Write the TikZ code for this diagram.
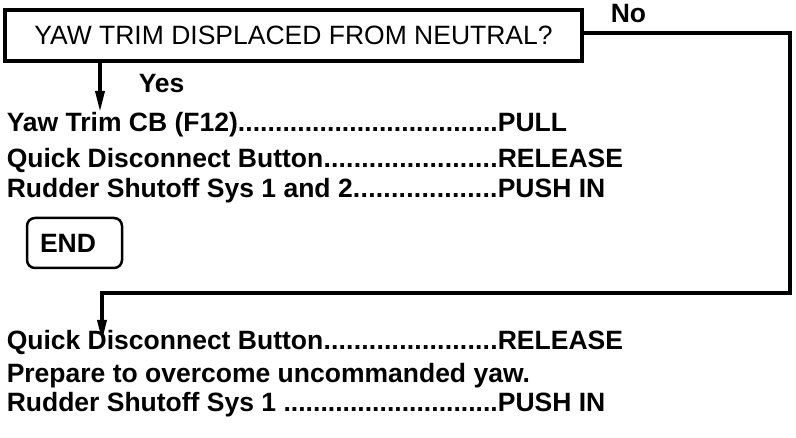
\documentclass[tikz,border=0pt]{standalone}
\usepackage{fontspec}
\setmainfont{Liberation Sans}
\usetikzlibrary{arrows.meta}
\usetikzlibrary{calc}

\newcommand{\chkline}[2]{\makebox[491pt][l]{#1\xleaders\hbox{.}\hfill}#2}

\begin{document}
\begin{tikzpicture}[x=1pt,y=-1pt,>={Triangle[length=21pt,width=9pt]},line width=3.5pt,font=\fontsize{26.5}{30}\selectfont]
	\tikzstyle{qbox}=[draw, rectangle, minimum width=577pt, minimum height=51pt, inner sep=0pt]
	\tikzstyle{endbox}=[draw, rectangle, rounded corners=8pt, line width=2.5pt, minimum height=50pt, text width=69pt, inner xsep=13pt, align=left, font=\fontsize{26.5}{30}\selectfont\bfseries]
	\tikzstyle{item}=[anchor=base west, inner sep=0pt, font=\fontsize{26.5}{30}\selectfont\bfseries]
	\useasboundingbox (0,0) rectangle (796,438);
	\node[qbox] 	(Q) at (293.5,35.5)	{YAW TRIM DISPLACED FROM NEUTRAL?};
	\node[item] 	(yes) at (137,93)	{Yes};
	\node[item] 	(no) at (609,23)	{No};
	\node[item] 	(A1) at (5,132)		{\chkline{Yaw Trim CB (F12)}{PULL}};
	\node[item] 	(A2) at (5,168)		{\chkline{Quick Disconnect Button}{RELEASE}};
	\node[item] 	(A3) at (5,198)		{\chkline{Rudder Shutoff Sys 1 and 2}{PUSH IN}};
	\node[endbox] 	(E) at (74.5,243)	{END};
	\node[item] 	(B1) at (5,350)		{\chkline{Quick Disconnect Button}{RELEASE}};
	\node[item] 	(B2) at (5,383)		{Prepare to overcome uncommanded yaw.};
	\node[item] 	(B3) at (5,412)		{\chkline{Rudder Shutoff Sys 1 }{PUSH IN}};
	\coordinate 	(ytip) at (100,112);
	\coordinate 	(ncorner) at (790,33);
	\coordinate 	(nturn) at (102,293);
	\coordinate 	(ntip) at (102,341);
	\draw[->] (Q.south -| ytip) -- (ytip);
	\draw[->] (Q.east |- ncorner) -- (ncorner) |- (nturn) -- (ntip);
\end{tikzpicture}
\end{document}
